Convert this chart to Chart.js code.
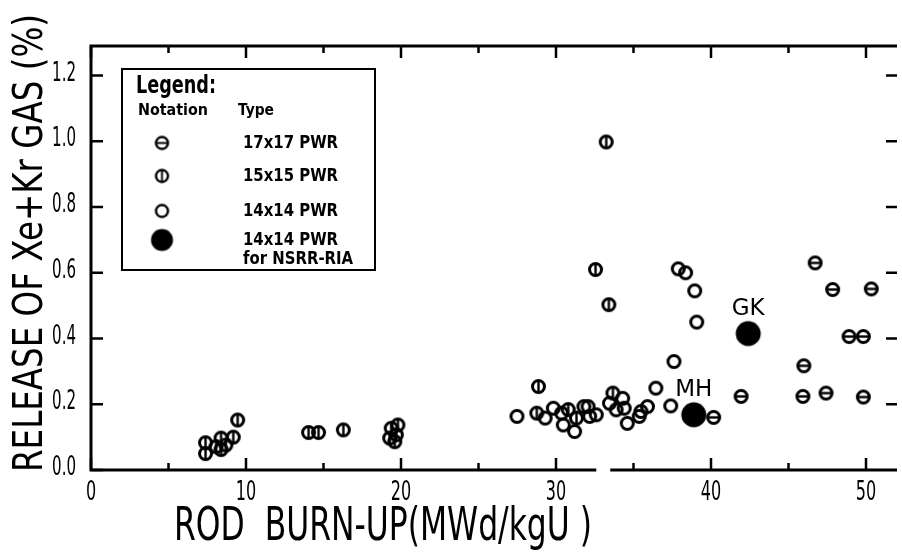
<!DOCTYPE html>
<html>
<head>
<meta charset="utf-8">
<script src="https://cdn.jsdelivr.net/npm/chart.js@4.4.1/dist/chart.umd.min.js"></script>
<style>
  html, body { margin: 0; padding: 0; background: #fff; }
  #wrap { width: 902px; height: 552px; }
</style>
</head>
<body>
<div id="wrap"><canvas id="chart" width="902" height="552"></canvas></div>
<script>
// ── DATA ──
const xTicks = [0, 10, 20, 30, 40, 50];
const xMinorTicks = [5, 15, 25, 35, 45];
const yTicks = [0, 0.2, 0.4, 0.6, 0.8, 1.0, 1.2];
const xRange = [0, 52];
const yRange = [0, 1.29];
const xBreak = [32.6, 33.5];

const seriesNames = ['17x17 PWR', '15x15 PWR', '14x14 PWR', '14x14 PWR|for NSRR-RIA'];

// 17x17 PWR
const burnup17 = [40.17, 41.94, 45.93, 45.99, 46.72, 47.42, 47.85, 48.91, 49.83, 49.83, 50.34];
const release17 = [0.160, 0.224, 0.224, 0.317, 0.630, 0.234, 0.549, 0.406, 0.406, 0.222, 0.551];

// 15x15 PWR
const burnup15 = [7.39, 7.39, 8.07, 8.39, 8.39, 8.70, 9.18, 9.46, 14.04, 14.68, 16.28,
  19.27, 19.37, 19.60, 19.70, 19.80, 28.76, 28.87, 30.79, 31.32, 32.55, 33.24, 33.41, 33.67];
const release15 = [0.083, 0.050, 0.071, 0.097, 0.062, 0.076, 0.100, 0.152, 0.114, 0.114, 0.122,
  0.097, 0.127, 0.086, 0.107, 0.137, 0.173, 0.254, 0.184, 0.158, 0.610, 0.998, 0.503, 0.234];

// 14x14 PWR
const burnup14 = [27.48, 29.30, 29.83, 30.36, 30.47, 31.20, 31.80, 32.07, 32.17, 32.60, 33.45,
  33.88, 34.30, 34.40, 34.60, 35.37, 35.48, 35.90, 36.44, 37.40, 37.61, 37.89, 38.36, 38.95, 39.08];
const release14 = [0.163, 0.158, 0.188, 0.173, 0.137, 0.117, 0.193, 0.193, 0.163, 0.168, 0.203,
  0.183, 0.218, 0.188, 0.142, 0.163, 0.178, 0.193, 0.249, 0.195, 0.330, 0.612, 0.600, 0.545, 0.450];

// 14x14 PWR for NSRR-RIA
const burnupRIA = [38.89, 42.40];
const releaseRIA = [0.168, 0.415];
const labelsRIA = ['MH', 'GK'];

// ── MARKERS ──
function makeMarker(kind, r, lw) {
  const size = Math.ceil(2 * r + lw + 2);
  const c = document.createElement('canvas');
  c.width = size; c.height = size;
  const g = c.getContext('2d');
  const m = size / 2;
  g.strokeStyle = '#000'; g.fillStyle = '#000'; g.lineWidth = lw;
  g.beginPath(); g.arc(m, m, r, 0, Math.PI * 2);
  if (kind === 'fill') { g.fill(); return c; }
  g.stroke();
  g.lineWidth = lw * 0.8;
  g.beginPath();
  if (kind === 'h') { g.moveTo(m - r, m); g.lineTo(m + r, m); }
  if (kind === 'v') { g.moveTo(m, m - r); g.lineTo(m, m + r); }
  g.stroke();
  return c;
}
const markers = [makeMarker('h', 6, 3), makeMarker('v', 6, 3), makeMarker('o', 6, 3), makeMarker('fill', 12.5, 1)];
const legendMarkers = [makeMarker('h', 6, 2.4), makeMarker('v', 6, 2.4), makeMarker('o', 6, 2.4), makeMarker('fill', 11, 1)];

function pts(xs, ys) { return xs.map((x, i) => ({ x, y: ys[i] })); }

const NARROW = '"DejaVu Sans Condensed", sans-serif';

// text squeezed horizontally (the original lettering is tall and narrow)
function squeezed(ctx, text, x, y, sx, align) {
  const w = ctx.measureText(text).width * sx;
  const x0 = align === 'right' ? x - w : align === 'center' ? x - w / 2 : x;
  ctx.save();
  ctx.translate(x0, y);
  ctx.scale(sx, 1);
  ctx.textAlign = 'left';
  ctx.fillText(text, 0, 0);
  ctx.restore();
}
function fitted(ctx, text, x, y, width) {
  squeezed(ctx, text, x, y, width / ctx.measureText(text).width, 'left');
}

// ── FRAME, TICKS, TITLES, LEGEND ──
const decor = {
  id: 'decor',
  afterDatasetsDraw(chart) {
    const { ctx, chartArea: a, scales: { x, y } } = chart;
    ctx.save();
    ctx.strokeStyle = '#000'; ctx.fillStyle = '#000';
    ctx.lineWidth = 3; ctx.lineCap = 'butt';

    // frame (right edge falls off the page)
    ctx.beginPath();
    ctx.moveTo(a.right, a.top); ctx.lineTo(a.left, a.top); ctx.lineTo(a.left, a.bottom);
    ctx.lineTo(x.getPixelForValue(xBreak[0]), a.bottom);
    ctx.moveTo(x.getPixelForValue(xBreak[1]), a.bottom); ctx.lineTo(a.right, a.bottom);
    ctx.stroke();

    ctx.lineWidth = 2.5;
    ctx.beginPath();
    xTicks.forEach(v => {
      const px = x.getPixelForValue(v);
      ctx.moveTo(px, a.bottom); ctx.lineTo(px, a.bottom - 12);
      ctx.moveTo(px, a.top); ctx.lineTo(px, a.top + 12);
    });
    xMinorTicks.forEach(v => {
      const px = x.getPixelForValue(v);
      ctx.moveTo(px, a.bottom); ctx.lineTo(px, a.bottom - 7);
      ctx.moveTo(px, a.top); ctx.lineTo(px, a.top + 7);
    });
    yTicks.forEach(v => {
      const py = y.getPixelForValue(v);
      ctx.moveTo(a.left, py); ctx.lineTo(a.left + 12, py);
      if (v > 0) { ctx.moveTo(a.right - 11, py); ctx.lineTo(a.right, py); }
    });
    ctx.stroke();

    // tick labels
    ctx.font = '27px ' + NARROW;
    ctx.textBaseline = 'middle';
    yTicks.forEach(v => squeezed(ctx, v.toFixed(1), a.left - 15, y.getPixelForValue(v) - 2, 0.62, 'right'));
    ctx.textBaseline = 'top';
    xTicks.forEach(v => squeezed(ctx, String(v), x.getPixelForValue(v), a.bottom + 9, 0.66, 'center'));

    // point labels
    ctx.font = '23px "DejaVu Sans", sans-serif';
    ctx.textAlign = 'center'; ctx.textBaseline = 'bottom';
    labelsRIA.forEach((t, i) => {
      ctx.fillText(t, x.getPixelForValue(burnupRIA[i]), y.getPixelForValue(releaseRIA[i]) - 13);
    });

    // axis titles
    ctx.textAlign = 'left'; ctx.textBaseline = 'alphabetic';
    ctx.font = '46px ' + NARROW;
    fitted(ctx, 'ROD  BURN-UP(MWd/kgU )', 174, 540, 418);
    ctx.save();
    ctx.translate(42, 472);
    ctx.rotate(-Math.PI / 2);
    ctx.font = '40px ' + NARROW;
    fitted(ctx, 'RELEASE OF Xe+Kr GAS (%)', 0, 0, 458);
    ctx.restore();

    // legend box
    ctx.lineWidth = 2;
    ctx.fillStyle = '#fff';
    ctx.fillRect(122, 69, 253, 201);
    ctx.strokeRect(122, 69, 253, 201);
    ctx.fillStyle = '#000';
    ctx.textBaseline = 'middle';
    ctx.font = 'bold 25px ' + NARROW;
    fitted(ctx, 'Legend:', 136, 86, 80);
    ctx.font = 'bold 16px ' + NARROW;
    fitted(ctx, 'Notation', 138, 111, 70);
    fitted(ctx, 'Type', 238, 111, 36);
    const rowY = [143, 176, 211, 240];
    ctx.font = 'bold 18px ' + NARROW;
    seriesNames.forEach((name, i) => {
      const mk = legendMarkers[i];
      ctx.drawImage(mk, 162 - mk.width / 2, rowY[i] - mk.height / 2);
      name.split('|').forEach((line, j) => squeezed(ctx, line, 243, rowY[i] + j * 19, 0.92, 'left'));
    });
    ctx.restore();
  }
};

new Chart(document.getElementById('chart'), {
  type: 'scatter',
  data: {
    datasets: [
      { label: seriesNames[0], data: pts(burnup17, release17), pointStyle: markers[0] },
      { label: seriesNames[1], data: pts(burnup15, release15), pointStyle: markers[1] },
      { label: seriesNames[2], data: pts(burnup14, release14), pointStyle: markers[2] },
      { label: seriesNames[3], data: pts(burnupRIA, releaseRIA), pointStyle: markers[3] }
    ]
  },
  options: {
    responsive: false,
    animation: false,
    devicePixelRatio: 1,
    layout: { padding: { top: 46, left: 0, right: 0, bottom: 0 } },
    plugins: { legend: { display: false }, tooltip: { enabled: false } },
    scales: {
      x: {
        type: 'linear', min: xRange[0], max: xRange[1],
        afterBuildTicks: s => { s.ticks = xTicks.map(v => ({ value: v })); },
        afterFit: s => { s.height = 82; },
        grid: { display: false }, border: { display: false },
        ticks: { display: false }
      },
      y: {
        type: 'linear', min: yRange[0], max: yRange[1],
        afterBuildTicks: s => { s.ticks = yTicks.map(v => ({ value: v })); },
        afterFit: s => { s.width = 91; },
        grid: { display: false }, border: { display: false },
        ticks: { display: false }
      }
    }
  },
  plugins: [decor]
});
</script>
</body>
</html>
